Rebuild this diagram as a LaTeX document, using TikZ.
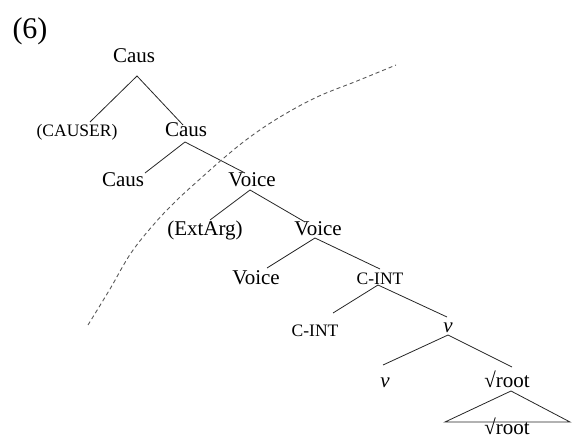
\documentclass[tikz,border=0pt]{standalone}
\usepackage{fontspec}
\setmainfont{Liberation Serif}
\begin{document}
\begin{tikzpicture}[x=1pt,y=-1pt,
  lab/.style={anchor=base,inner sep=0pt,font=\fontsize{21}{24}\selectfont},
  smlab/.style={anchor=base,inner sep=0pt,font=\fontsize{17.5}{20}\selectfont},
  edge/.style={line width=0.8pt,black!85},
  arc/.style={line width=0.9pt,black!65,dash pattern=on 4pt off 3pt}]
\useasboundingbox (0,0) rectangle (573,438);
\node[anchor=base,inner sep=0pt,font=\fontsize{30}{34}\selectfont] (six) at (30,39) {(6)};
\node[lab] (root) at (134,63) {Caus};
\node[smlab] (causer) at (77,137) {(CAUSER)};
\node[lab] (causm) at (186,137) {Caus};
\node[lab] (causl) at (123,187) {Caus};
\node[lab] (voice1) at (252,187) {Voice};
\node[lab] (extarg) at (205,236) {(ExtArg)};
\node[lab] (voice2) at (318,236) {Voice};
\node[lab] (voice3) at (256,285) {Voice};
\node[smlab] (cint1) at (380,285) {C-INT};
\node[smlab] (cint2) at (315,337) {C-INT};
\node[lab] (v1) at (448,333) {\textit{v}};
\node[lab] (v2) at (385,387) {\textit{v}};
\node[lab] (root1) at (507,387) {√root};
\node[lab] (root2) at (507,434) {√root};
% edges
\draw[edge] ([shift={(13,-15)}]causer.base) -- ([shift={(3,13)}]root.base) -- ([shift={(-3,-12)}]causm.base);
\draw[edge] ([shift={(22,-14)}]causl.base) -- ([shift={(-1,5)}]causm.base) -- ([shift={(-7,-14)}]voice1.base);
\draw[edge] ([shift={(5,-16)}]extarg.base) -- ([shift={(-2,3)}]voice1.base) -- ([shift={(-13,-14)}]voice2.base);
\draw[edge] ([shift={(11,-17)}]voice3.base) -- ([shift={(-3,2)}]voice2.base) -- ([shift={(0,-16)}]cint1.base);
\draw[edge] ([shift={(18,-24)}]cint2.base) -- ([shift={(-2,0)}]cint1.base) -- ([shift={(-1,-16)}]v1.base);
\draw[edge] ([shift={(-2,-22)}]v2.base) -- ([shift={(0,2)}]v1.base) -- ([shift={(5,-20)}]root1.base);
\draw[edge] ([shift={(4,4)}]root1.base) -- ([shift={(-62,-12)}]root2.base) -- ([shift={(63,-12)}]root2.base) -- cycle;
% dashed boundary
\draw[arc] plot[smooth,tension=0.6] coordinates {(88,325) (110,289) (131,253) (155,223) (177,200) (200,179) (225,157) (250,137) (280,117) (317,97) (357,81) (396,65)};
\end{tikzpicture}
\end{document}
